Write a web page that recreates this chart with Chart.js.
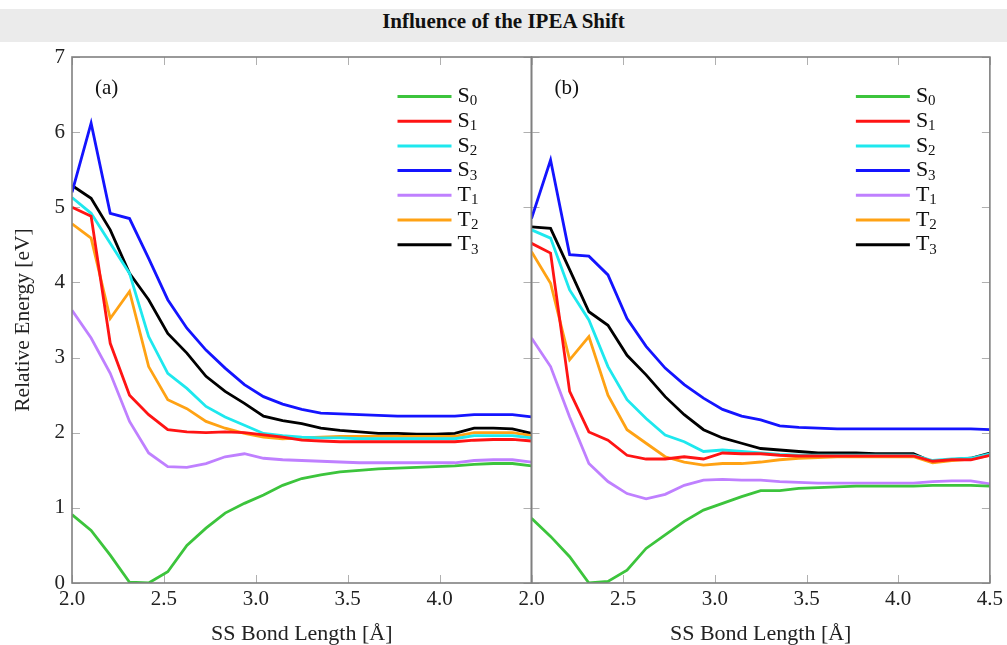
<!DOCTYPE html>
<html>
<head>
<meta charset="utf-8">
<title>Influence of the IPEA Shift</title>
<script src="https://cdn.jsdelivr.net/npm/chart.js@4.4.1/dist/chart.umd.min.js"></script>
<style>
  html, body { margin: 0; padding: 0; background: #fff; }
  #wrap { position: relative; width: 1007px; height: 645px; overflow: hidden; }
  #title {
    position: absolute; left: 0; top: 9px; width: 1007px; height: 33px;
    line-height: 33px; background: #ebebeb; text-align: center;
    font: bold 21px 'Liberation Serif', serif; color: #111;
  }
  canvas { position: absolute; top: 0; }
  #chartA { left: 0; }
  #chartB { left: 500px; }
</style>
</head>
<body>
<div id="wrap">
  <div id="title">Influence of the IPEA Shift</div>
  <canvas id="chartA" width="560" height="649"></canvas>
  <canvas id="chartB" width="507" height="649"></canvas>
</div>
<script>
// ── DATA ──────────────────────────────────────────────────────────
const bondLength = [2.000, 2.104, 2.208, 2.313, 2.417, 2.521, 2.625, 2.729, 2.833, 2.938,
                    3.042, 3.146, 3.250, 3.354, 3.458, 3.563, 3.667, 3.771, 3.875, 3.979,
                    4.083, 4.188, 4.292, 4.396, 4.500];

const stateLabels = ['S₀', 'S₁', 'S₂', 'S₃', 'T₁', 'T₂', 'T₃'];
const stateColors = ['#3cc43c', '#ff1414', '#1ee8ee', '#1414ff', '#bf80ff', '#ffa214', '#000000'];

// panel (a)
const s0A = [0.91, 0.70, 0.37, 0.01, 0.00, 0.15, 0.50, 0.73, 0.93, 1.06, 1.17, 1.30, 1.39, 1.44, 1.48, 1.50, 1.52, 1.53, 1.54, 1.55, 1.56, 1.58, 1.59, 1.59, 1.56];
const s1A = [5.00, 4.88, 3.19, 2.50, 2.24, 2.04, 2.01, 2.00, 2.01, 2.00, 1.97, 1.94, 1.90, 1.89, 1.88, 1.88, 1.88, 1.88, 1.88, 1.88, 1.88, 1.90, 1.91, 1.91, 1.89];
const s2A = [5.13, 4.92, 4.52, 4.12, 3.28, 2.79, 2.59, 2.35, 2.21, 2.10, 1.99, 1.96, 1.94, 1.93, 1.93, 1.92, 1.92, 1.92, 1.92, 1.92, 1.92, 1.96, 1.96, 1.96, 1.93];
const s3A = [5.20, 6.12, 4.92, 4.85, 4.32, 3.77, 3.39, 3.10, 2.86, 2.64, 2.48, 2.38, 2.31, 2.26, 2.25, 2.24, 2.23, 2.22, 2.22, 2.22, 2.22, 2.24, 2.24, 2.24, 2.21];
const t1A = [3.63, 3.26, 2.79, 2.15, 1.73, 1.55, 1.54, 1.59, 1.68, 1.72, 1.66, 1.64, 1.63, 1.62, 1.61, 1.60, 1.60, 1.60, 1.60, 1.60, 1.60, 1.63, 1.64, 1.64, 1.61];
const t2A = [4.78, 4.59, 3.52, 3.88, 2.88, 2.44, 2.32, 2.15, 2.06, 1.99, 1.94, 1.92, 1.93, 1.94, 1.95, 1.95, 1.95, 1.95, 1.95, 1.95, 1.95, 2.00, 2.00, 2.00, 1.96];
const t3A = [5.29, 5.12, 4.70, 4.12, 3.77, 3.32, 3.06, 2.75, 2.55, 2.39, 2.22, 2.16, 2.12, 2.06, 2.03, 2.01, 1.99, 1.99, 1.98, 1.98, 1.99, 2.06, 2.06, 2.05, 1.99];

// panel (b)
const s0B = [0.86, 0.62, 0.35, 0.00, 0.02, 0.17, 0.46, 0.64, 0.82, 0.97, 1.06, 1.15, 1.23, 1.23, 1.26, 1.27, 1.28, 1.29, 1.29, 1.29, 1.29, 1.30, 1.30, 1.30, 1.29];
const s1B = [4.52, 4.39, 2.55, 2.01, 1.90, 1.70, 1.65, 1.65, 1.68, 1.65, 1.73, 1.72, 1.72, 1.70, 1.69, 1.69, 1.69, 1.69, 1.69, 1.69, 1.69, 1.62, 1.64, 1.64, 1.70];
const s2B = [4.70, 4.59, 3.90, 3.50, 2.88, 2.44, 2.19, 1.97, 1.88, 1.75, 1.77, 1.75, 1.73, 1.71, 1.70, 1.70, 1.70, 1.70, 1.70, 1.70, 1.70, 1.63, 1.65, 1.66, 1.72];
const s3B = [4.85, 5.63, 4.37, 4.35, 4.10, 3.52, 3.15, 2.86, 2.64, 2.46, 2.31, 2.22, 2.17, 2.09, 2.07, 2.06, 2.05, 2.05, 2.05, 2.05, 2.05, 2.05, 2.05, 2.05, 2.04];
const t1B = [3.26, 2.88, 2.21, 1.59, 1.35, 1.19, 1.12, 1.18, 1.30, 1.37, 1.38, 1.37, 1.37, 1.35, 1.34, 1.33, 1.33, 1.33, 1.33, 1.33, 1.33, 1.35, 1.36, 1.36, 1.32];
const t2B = [4.41, 3.99, 2.97, 3.28, 2.50, 2.04, 1.86, 1.68, 1.61, 1.57, 1.59, 1.59, 1.61, 1.64, 1.66, 1.67, 1.68, 1.68, 1.68, 1.68, 1.68, 1.60, 1.63, 1.65, 1.70];
const t3B = [4.74, 4.72, 4.17, 3.61, 3.43, 3.03, 2.77, 2.48, 2.24, 2.04, 1.93, 1.86, 1.79, 1.77, 1.75, 1.73, 1.73, 1.73, 1.72, 1.72, 1.72, 1.61, 1.64, 1.66, 1.73];

const xTicks = [2.0, 2.5, 3.0, 3.5, 4.0, 4.5];
const yTicks = [0, 1, 2, 3, 4, 5, 6, 7];

// ── DEFAULTS ──────────────────────────────────────────────────────
const SERIF = "'Liberation Serif', 'DejaVu Serif', serif";
Chart.defaults.font.family = SERIF;
Chart.defaults.color = '#222';

// ── PLUGINS ───────────────────────────────────────────────────────
// inner tick marks on all four sides
const innerTicks = {
  id: 'innerTicks',
  beforeDatasetsDraw(chart) {
    const { ctx, chartArea: a, scales: { x, y } } = chart;
    const len = 8;
    ctx.save();
    ctx.strokeStyle = '#b0b0b0';
    ctx.lineWidth = 1;
    ctx.beginPath();
    xTicks.forEach(v => {
      const px = Math.round(x.getPixelForValue(v)) + 0.5;
      ctx.moveTo(px, a.bottom); ctx.lineTo(px, a.bottom - len);
      ctx.moveTo(px, a.top);    ctx.lineTo(px, a.top + len);
    });
    yTicks.forEach(v => {
      const py = Math.round(y.getPixelForValue(v)) + 0.5;
      ctx.moveTo(a.left, py);  ctx.lineTo(a.left + len, py);
      ctx.moveTo(a.right, py); ctx.lineTo(a.right - len, py);
    });
    ctx.stroke();
    ctx.restore();
  }
};

// frame, panel tag and legend drawn inside the plot box
const panelDecor = {
  id: 'panelDecor',
  afterDraw(chart, args, opts) {
    const { ctx, chartArea: a } = chart;
    ctx.save();
    ctx.strokeStyle = '#808080';
    ctx.lineWidth = 1.6;
    ctx.strokeRect(a.left, a.top, a.right - a.left, a.bottom - a.top);

    // panel tag
    ctx.fillStyle = '#111';
    ctx.font = `21px ${SERIF}`;
    ctx.textBaseline = 'middle';
    ctx.textAlign = 'left';
    ctx.fillText(opts.tag, a.left + 23, a.top + 31);

    // legend
    const x0 = a.right - 134;
    chart.data.datasets.forEach((ds, i) => {
      const yy = a.top + 39.5 + i * 24.7;
      ctx.strokeStyle = ds.borderColor;
      ctx.lineWidth = 3;
      ctx.beginPath();
      ctx.moveTo(x0, yy); ctx.lineTo(x0 + 54, yy);
      ctx.stroke();
      const base = ds.label.charAt(0);
      const sub = String(ds.label.charCodeAt(1) - 0x2080);
      ctx.fillStyle = '#111';
      ctx.font = `22px ${SERIF}`;
      ctx.fillText(base, x0 + 60, yy);
      const w = ctx.measureText(base).width;
      ctx.font = `15px ${SERIF}`;
      ctx.fillText(sub, x0 + 60 + w, yy + 5);
    });
    ctx.restore();
  }
};

// ── BUILD ─────────────────────────────────────────────────────────
function makeDatasets(series) {
  return series.map((vals, i) => ({
    label: stateLabels[i],
    data: vals.map((v, k) => ({ x: bondLength[k], y: v })),
    borderColor: stateColors[i],
    backgroundColor: stateColors[i],
    borderWidth: 2.8,
    pointRadius: 0,
    tension: 0,
    fill: false
  }));
}

function makeChart(canvasId, series, tag, isLeft) {
  return new Chart(document.getElementById(canvasId), {
    type: 'line',
    data: { datasets: makeDatasets(series) },
    options: {
      responsive: false,
      animation: false,
      layout: {
        padding: isLeft
          ? { top: 57, left: 0, right: 28.5, bottom: 0 }
          : { top: 57, left: 31.5, right: 16, bottom: 0 }
      },
      plugins: {
        legend: { display: false },
        tooltip: { enabled: false },
        panelDecor: { tag }
      },
      scales: {
        x: {
          type: 'linear',
          min: 2, max: 4.5,
          grid: { display: false, drawTicks: false },
          border: { display: false },
          afterBuildTicks: s => { s.ticks = xTicks.map(v => ({ value: v })); },
          afterFit: s => { s.height = 66; },
          ticks: {
            autoSkip: false, maxRotation: 0, padding: 4,
            font: { size: 21 }, color: '#222',
            callback: v => (isLeft && v === 4.5) ? '' : v.toFixed(1)
          },
          title: {
            display: true, text: 'SS Bond Length [Å]',
            font: { size: 22 }, color: '#222',
            padding: { top: 0, bottom: 2 }
          }
        },
        y: {
          display: isLeft,
          min: 0, max: 7,
          grid: { display: false, drawTicks: false },
          border: { display: false },
          afterBuildTicks: s => { s.ticks = yTicks.map(v => ({ value: v })); },
          afterFit: s => { s.width = isLeft ? 72 : 0; },
          ticks: { padding: 7, font: { size: 21 }, color: '#222' },
          title: {
            display: true, text: 'Relative Energy [eV]',
            font: { size: 21.5 }, color: '#222',
            padding: { top: 10, bottom: 0 }
          }
        }
      }
    },
    plugins: [innerTicks, panelDecor]
  });
}

makeChart('chartA', [s0A, s1A, s2A, s3A, t1A, t2A, t3A], '(a)', true);
makeChart('chartB', [s0B, s1B, s2B, s3B, t1B, t2B, t3B], '(b)', false);
</script>
</body>
</html>
